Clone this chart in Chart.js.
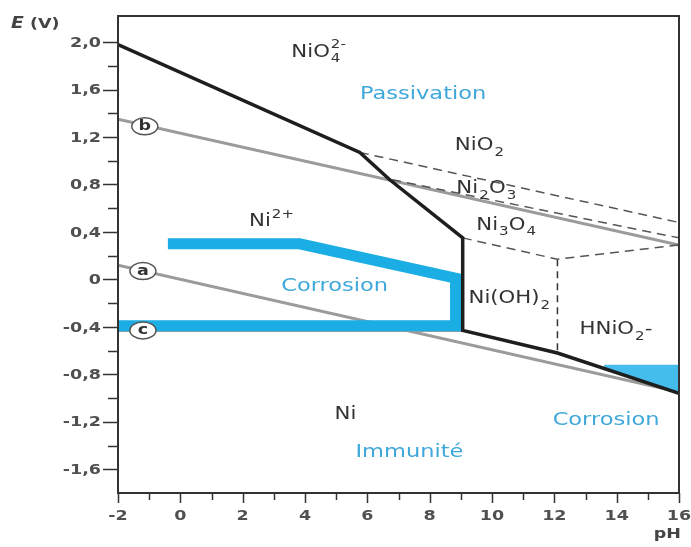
<!DOCTYPE html>
<html>
<head>
<meta charset="utf-8">
<script src="https://cdn.jsdelivr.net/npm/chart.js@4"></script>
<style>
  html, body { margin: 0; padding: 0; background: #fff; }
</style>
</head>
<body>
<canvas id="myChart" width="691" height="547"></canvas>
<script>
// ---- data (pH, E in V) ----
var blackPH = [-2, 5.76, 6.72, 9.06, 9.06, 12.1, 16];
var blackE  = [1.98, 1.07, 0.84, 0.35, -0.43, -0.62, -0.96];

var lineA_PH = [-2, 16];
var lineA_E  = [0.12, -0.95];
var lineB_PH = [-2, 16];
var lineB_E  = [1.35, 0.29];
var lineC_PH = [-2, 9.06];
var lineC_E  = [-0.43, -0.43];

var cyanPH = [-0.4, 3.83, 8.83, 8.83, -2];
var cyanE  = [0.30, 0.30, 0.01, -0.39, -0.39];

var cornerPH = [13.6, 16, 16, 13.6];
var cornerE  = [-0.72, -0.72, -0.96, -0.75];

var dash1PH = [5.76, 16];
var dash1E  = [1.07, 0.48];
var dash2PH = [6.8, 16];
var dash2E  = [0.84, 0.35];
var dash3PH = [9.06, 12.1, 16];
var dash3E  = [0.35, 0.17, 0.29];
var dash4PH = [12.1, 12.1];
var dash4E  = [0.17, -0.62];

var xTicks = [-2, 0, 2, 4, 6, 8, 10, 12, 14, 16];
var xTickLabels = ['-2', '0', '2', '4', '6', '8', '10', '12', '14', '16'];
var yTicks = [2.0, 1.6, 1.2, 0.8, 0.4, 0, -0.4, -0.8, -1.2, -1.6];
var yTickLabels = ['2,0', '1,6', '1,2', '0,8', '0,4', '0', '-0,4', '-0,8', '-1,2', '-1,6'];

var DARK = '#333333';
var CYAN = '#1aaee5';
var CYAN_TEXT = '#3ea8da';
var GRAY = '#9b9b9b';

// region labels, anchored in (pH, E)
var regionLabels = [
  { x: 4.44, y: 1.93, parts: ['NiO', { sub: '4', sup: '2-' }], color: DARK, size: 17 },
  { x: 7.79, y: 1.58, parts: ['Passivation'], color: CYAN_TEXT, size: 18 },
  { x: 9.60, y: 1.14, parts: ['NiO', { sub: '2' }], color: DARK, size: 17 },
  { x: 9.82, y: 0.78, parts: ['Ni', { sub: '2' }, 'O', { sub: '3' }], color: DARK, size: 17 },
  { x: 10.46, y: 0.47, parts: ['Ni', { sub: '3' }, 'O', { sub: '4' }], color: DARK, size: 17 },
  { x: 2.93, y: 0.50, parts: ['Ni', { sup: '2+' }], color: DARK, size: 17 },
  { x: 4.95, y: -0.04, parts: ['Corrosion'], color: CYAN_TEXT, size: 18 },
  { x: 10.56, y: -0.15, parts: ['Ni(OH)', { sub: '2' }], color: DARK, size: 17 },
  { x: 13.98, y: -0.41, parts: ['HNiO', { sub: '2' }, '-'], color: DARK, size: 17 },
  { x: 5.30, y: -1.12, parts: ['Ni'], color: DARK, size: 17 },
  { x: 7.35, y: -1.44, parts: ['Immunité'], color: CYAN_TEXT, size: 18 },
  { x: 13.66, y: -1.17, parts: ['Corrosion'], color: CYAN_TEXT, size: 18 }
];

var circleLabels = [
  { x: -1.14, y: 1.29, t: 'b' },
  { x: -1.2, y: 0.07, t: 'a' },
  { x: -1.2, y: -0.43, t: 'c' }
];

function pts(xs, ys) {
  return xs.map(function (x, i) { return { x: x, y: ys[i] }; });
}

function line(xs, ys, color, width, extra) {
  var ds = {
    data: pts(xs, ys),
    showLine: true,
    borderColor: color,
    borderWidth: width,
    pointRadius: 0,
    fill: false,
    tension: 0,
    borderJoinStyle: 'miter',
    borderCapStyle: 'butt'
  };
  for (var k in extra) ds[k] = extra[k];
  return ds;
}

var STRETCH = 1.25;
var FONT = '"DejaVu Sans"';

function stretchedText(ctx, txt, x, y, align) {
  ctx.save();
  ctx.translate(x, y);
  ctx.scale(STRETCH, 1);
  ctx.textAlign = align || 'left';
  ctx.fillText(txt, 0, 0);
  ctx.restore();
}

function richText(ctx, lab, cx, cy) {
  var big = 'normal ' + lab.size + 'px ' + FONT;
  var small = 'normal ' + Math.round(lab.size * 0.68) + 'px ' + FONT;
  var total = 0;
  lab.parts.forEach(function (p) {
    if (typeof p === 'string') { ctx.font = big; total += ctx.measureText(p).width; }
    else {
      ctx.font = small;
      var w1 = p.sub ? ctx.measureText(p.sub).width : 0;
      var w2 = p.sup ? ctx.measureText(p.sup).width : 0;
      total += Math.max(w1, w2) + 1;
    }
  });
  var x = cx - total * STRETCH / 2;
  var base = cy + lab.size * 0.73 / 2;
  ctx.fillStyle = lab.color;
  ctx.textBaseline = 'alphabetic';
  lab.parts.forEach(function (p) {
    if (typeof p === 'string') {
      ctx.font = big;
      stretchedText(ctx, p, x, base);
      x += ctx.measureText(p).width * STRETCH;
    } else {
      ctx.font = small;
      var w = 0;
      if (p.sub) { stretchedText(ctx, p.sub, x + 1, base + lab.size * 0.32); w = ctx.measureText(p.sub).width; }
      if (p.sup) { stretchedText(ctx, p.sup, x + 1, base - lab.size * 0.5); w = Math.max(w, ctx.measureText(p.sup).width); }
      x += (w + 1) * STRETCH;
    }
  });
}

var decor = {
  id: 'decor',
  afterDatasetsDraw: function (chart) {
    var ctx = chart.ctx, xs = chart.scales.x, ys = chart.scales.y, a = chart.chartArea;
    ctx.save();

    // frame
    ctx.strokeStyle = DARK;
    ctx.lineWidth = 2;
    ctx.strokeRect(a.left, a.top, a.right - a.left, a.bottom - a.top);

    // tick marks
    ctx.lineWidth = 1.5;
    ys.ticks.forEach(function (t) {
      if (t.value > 2.1 || t.value < -1.7) return;
      var major = yTicks.some(function (v) { return Math.abs(v - t.value) < 1e-6; });
      var py = Math.round(ys.getPixelForValue(t.value)) + 0.5;
      ctx.beginPath();
      ctx.moveTo(a.left - (major ? 15 : 10), py);
      ctx.lineTo(a.left, py);
      ctx.stroke();
    });
    xs.ticks.forEach(function (t) {
      var major = xTicks.indexOf(t.value) >= 0;
      var px = Math.round(xs.getPixelForValue(t.value)) + 0.5;
      ctx.beginPath();
      ctx.moveTo(px, a.bottom);
      ctx.lineTo(px, a.bottom + (major ? 10 : 7));
      ctx.stroke();
    });

    // tick labels
    ctx.fillStyle = '#505050';
    ctx.font = 'bold 14px ' + FONT;
    ctx.textBaseline = 'middle';
    yTicks.forEach(function (v, i) {
      stretchedText(ctx, yTickLabels[i], a.left - 17, ys.getPixelForValue(v) + 1, 'right');
    });
    xTicks.forEach(function (v, i) {
      stretchedText(ctx, xTickLabels[i], xs.getPixelForValue(v), a.bottom + 23, 'center');
    });

    // axis titles
    ctx.fillStyle = '#444';
    ctx.font = 'italic bold 15px ' + FONT;
    stretchedText(ctx, 'E', 11, 24, 'left');
    ctx.font = 'bold 14px ' + FONT;
    stretchedText(ctx, '(V)', 30, 24, 'left');
    stretchedText(ctx, 'pH', 681, 534, 'right');

    // circled line names
    circleLabels.forEach(function (c) {
      var px = xs.getPixelForValue(c.x), py = ys.getPixelForValue(c.y);
      ctx.beginPath();
      ctx.ellipse(px, py, 13, 8.5, 0, 0, Math.PI * 2);
      ctx.fillStyle = '#fff';
      ctx.fill();
      ctx.strokeStyle = '#555';
      ctx.lineWidth = 1.5;
      ctx.stroke();
      ctx.fillStyle = DARK;
      ctx.font = 'bold 14px ' + FONT;
      ctx.textBaseline = 'middle';
      stretchedText(ctx, c.t, px, py, 'center');
    });

    // region labels
    regionLabels.forEach(function (lab) {
      richText(ctx, lab, xs.getPixelForValue(lab.x), ys.getPixelForValue(lab.y));
    });

    ctx.restore();
  }
};

var ctx = document.getElementById('myChart').getContext('2d');
var myChart = new Chart(ctx, {
  type: 'scatter',
  data: {
    datasets: [
      line(blackPH, blackE, '#1e1e1e', 3.5),
      line(cyanPH, cyanE, CYAN, 11),
      line(cornerPH, cornerE, 'rgba(0,0,0,0)', 0, { fill: 'shape', backgroundColor: '#45bdec' }),
      line(dash1PH, dash1E, '#555', 1.5, { borderDash: [9, 6] }),
      line(dash2PH, dash2E, '#555', 1.5, { borderDash: [9, 6] }),
      line(dash3PH, dash3E, '#555', 1.5, { borderDash: [9, 6] }),
      line(dash4PH, dash4E, '#333', 1.5, { borderDash: [7, 5] }),
      line(lineA_PH, lineA_E, GRAY, 3),
      line(lineB_PH, lineB_E, GRAY, 3),
      line(lineC_PH, lineC_E, GRAY, 3)
    ]
  },
  options: {
    responsive: false,
    animation: false,
    events: [],
    layout: { padding: { top: 16, right: 12, left: 0, bottom: 0 } },
    plugins: { legend: { display: false }, tooltip: { enabled: false } },
    scales: {
      x: {
        type: 'linear',
        min: -2,
        max: 16,
        bounds: 'data',
        ticks: { stepSize: 1, display: false, autoSkip: false },
        grid: { display: false },
        border: { display: false },
        afterFit: function (s) { s.height = 54; }
      },
      y: {
        type: 'linear',
        min: -1.8,
        max: 2.22,
        bounds: 'data',
        ticks: { stepSize: 0.2, display: false, autoSkip: false, includeBounds: false },
        grid: { display: false },
        border: { display: false },
        afterFit: function (s) { s.width = 118; }
      }
    }
  },
  plugins: [decor]
});
</script>
</body>
</html>
